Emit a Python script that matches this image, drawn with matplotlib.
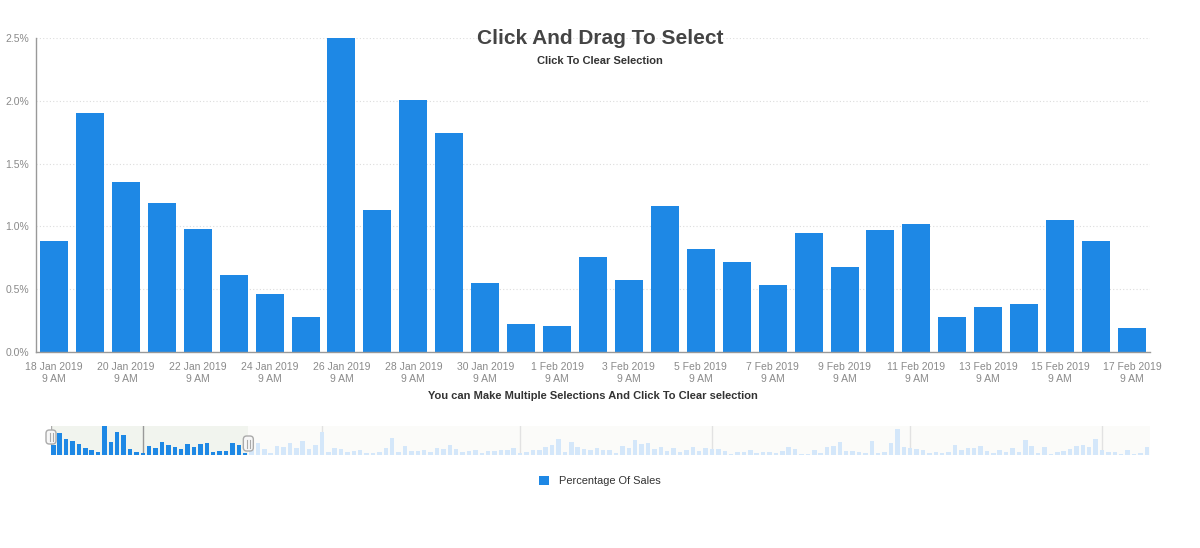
import matplotlib.pyplot as plt
from matplotlib.patches import FancyBboxPatch
import numpy as np
import pandas as pd

plt.rcParams['font.family'] = ['Liberation Sans', 'DejaVu Sans']

# % of sales per day, starting 18 Jan 2019 9 AM
# first 31 days = the selected window shown in the main chart
selected_pct = [0.88, 1.90, 1.35, 1.19, 0.98, 0.61, 0.46, 0.28, 2.50, 1.13,
                2.01, 1.74, 0.55, 0.22, 0.21, 0.76, 0.57, 1.16, 0.82, 0.72,
                0.53, 0.95, 0.68, 0.97, 1.02, 0.28, 0.36, 0.38, 1.05, 0.88, 0.19]

# remaining days, only visible in the navigator strip
rest_pct = [0.40,
            1.03, 0.52, 0.14, 0.75, 0.66, 1.03, 0.60, 1.20, 0.52, 0.86,
            1.98, 0.26, 0.60, 0.55, 0.26, 0.34, 0.43, 0.17, 0.14, 0.26,
            0.60, 1.44, 0.26, 0.75, 0.34, 0.34, 0.43,
            0.26, 0.60, 0.49, 0.83, 0.52, 0.23, 0.34, 0.43, 0.17, 0.32,
            0.32, 0.43, 0.40, 0.57, 0.20, 0.26, 0.43, 0.43, 0.69, 0.83,
            1.35, 0.26, 1.12, 0.66, 0.52, 0.43, 0.63, 0.43,
            0.43, 0.20, 0.78, 0.60, 1.29, 0.92, 1.01, 0.52, 0.69, 0.34,
            0.57, 0.29, 0.43, 0.69, 0.34, 0.60, 0.49, 0.52, 0.34, 0.09,
            0.26, 0.26, 0.43, 0.20, 0.26, 0.26, 0.17, 0.34,
            0.66, 0.49, 0.09, 0.09, 0.43, 0.17, 0.69, 0.78, 1.12, 0.34,
            0.34, 0.26, 0.17, 1.24, 0.17, 0.26, 1.06, 2.24, 0.69, 0.63,
            0.52, 0.43, 0.17, 0.26, 0.17, 0.26, 0.83, 0.43,
            0.57, 0.57, 0.75, 0.34, 0.20, 0.43, 0.29, 0.57, 0.23, 1.26,
            0.78, 0.17, 0.66, 0.09, 0.26, 0.34, 0.52, 0.75, 0.86, 0.69,
            1.38, 0.43, 0.26, 0.26, 0.11, 0.43, 0.11, 0.17, 0.69]

start_date = '2019-01-18 09:00'
series_name = 'Percentage Of Sales'

all_pct = selected_pct + rest_pct
all_dates = pd.date_range(start_date, periods=len(all_pct), freq='D').to_pydatetime()
sel_dates = all_dates[:len(selected_pct)]
half_day = pd.Timedelta(hours=12).to_pytimedelta()

blue = '#1e88e5'
pale = '#d4e7fa'
grey_txt = '#8a8a8a'

fig = plt.figure(figsize=(12, 5.48), dpi=100)

# ---- main chart
ax = fig.add_axes([36/1200, 1-352/548, 1114/1200, 314/548])
ax.bar(sel_dates, selected_pct, width=0.78, color=blue, label=series_name, zorder=2)
ax.set_xlim(sel_dates[0] - half_day, sel_dates[-1] + half_day)
ax.set_ylim(0, 2.5)

yticks = np.arange(0, 2.51, 0.5)
ax.set_yticks(yticks, [f'{v:.1f}%' for v in yticks])
xt = sel_dates[::2]
ax.set_xticks(xt, [f"{d.day} {d:%b %Y}\n{d.hour % 12 or 12} {d:%p}" for d in xt])
ax.tick_params(length=0, labelsize=7.5, colors=grey_txt)
ax.tick_params(axis='x', pad=7)
ax.tick_params(axis='y', pad=5)
for lbl in ax.get_xticklabels():
    lbl.set_linespacing(1.3)

ax.yaxis.grid(True, linestyle=(0, (1, 2)), color='#dddddd', lw=0.8)
ax.set_axisbelow(True)
for s in ['top', 'right']:
    ax.spines[s].set_visible(False)
for s in ['left', 'bottom']:
    ax.spines[s].set_color('#999999')
    ax.spines[s].set_linewidth(1)

ax.set_xlabel('You can Make Multiple Selections And Click To Clear selection',
              fontsize=8, fontweight='bold', color='#333333', labelpad=5)

fig.text(0.5, 1-38/548, 'Click And Drag To Select', ha='center', va='center',
         fontsize=15, fontweight='bold', color='#444444')
fig.text(0.5, 1-61/548, 'Click To Clear Selection', ha='center', va='center',
         fontsize=8, fontweight='bold', color='#333333')

# ---- navigator
nav = fig.add_axes([51/1200, 1-455/548, 1099/1200, 29/548])
nav.set_facecolor('#fbfbf9')
sel_end = sel_dates[-1] + half_day
nav_left = all_dates[0] - pd.Timedelta(hours=8.6).to_pytimedelta()
nav.axvspan(nav_left, sel_end, color='#f1f4ee', lw=0, zorder=0)
colors = [blue if d <= sel_end else pale for d in all_dates]
nav.bar(all_dates, all_pct, width=0.7, color=colors, zorder=2)
month_starts = pd.date_range('2019-02-01 09:00', '2019-07-01 09:00', freq='MS')
month_starts = [m.replace(hour=9) for m in month_starts.to_pydatetime()]
for m in month_starts:
    nav.axvline(m, color='#999999' if m < sel_end else '#e2e2e2', lw=1, zorder=1)
nav.axvline(nav_left, color='#aaaaaa', lw=1, zorder=1)
nav.set_xlim(nav_left, all_dates[-1] + half_day)
nav.set_ylim(0, max(all_pct))
nav.set_xticks([])
nav.set_yticks([])
for s in nav.spines.values():
    s.set_visible(False)

# selection handles
to_fig = fig.transFigure.inverted()
for xd, (y0, y1) in [(nav_left, (0.379, 0.862)), (sel_end, (0.138, 0.655))]:
    px, py0 = nav.transData.transform((nav.convert_xunits(xd), 0))
    _, pya = nav.transAxes.transform((0, y0))
    _, pyb = nav.transAxes.transform((0, y1))
    w, h = 10, pyb - pya
    fx, fy = to_fig.transform((px - w/2, pya))
    fw, fh = w/1200, h/548
    box = FancyBboxPatch((fx, fy), fw, fh, boxstyle='round,pad=0,rounding_size=0.0028',
                         mutation_aspect=1200/548, transform=fig.transFigure,
                         facecolor='#f7f7f7', edgecolor='#aaaaaa', lw=1, zorder=5)
    fig.patches.append(box)
    cy = pya + h/2
    for dx in (-1.5, 1.5):
        a = to_fig.transform((px + dx, cy - 4))
        b = to_fig.transform((px + dx, cy + 4))
        fig.add_artist(plt.Line2D([a[0], b[0]], [a[1], b[1]], color='#aaaaaa',
                                  lw=0.8, transform=fig.transFigure, zorder=6))

# ---- legend
fig.legend(loc='center', bbox_to_anchor=(0.5, 1-481/548), frameon=False,
           fontsize=7.9, handlelength=0.91, handleheight=0.91, handletextpad=0.91,
           labelcolor='#333333')

fig.savefig('out.png', dpi=100)
